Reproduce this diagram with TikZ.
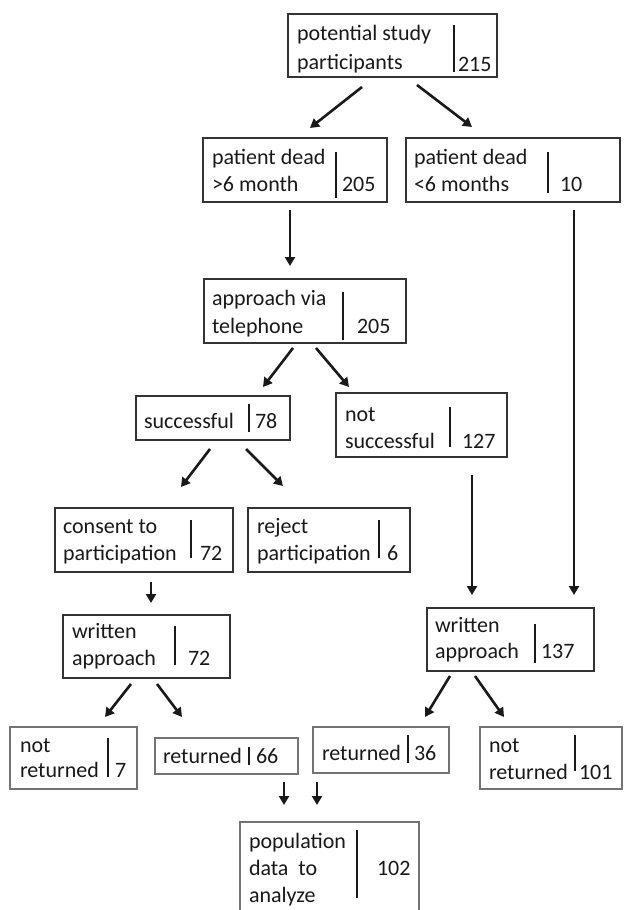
\documentclass[tikz,border=0pt]{standalone}
\usepackage{fontspec}
\setmainfont{Carlito}
\usetikzlibrary{arrows.meta,calc}
\begin{document}
\begin{tikzpicture}[x=1pt,y=-1pt,
  box/.style={draw=black!80,line width=1.4pt,inner sep=0pt,outer sep=0pt,anchor=north west},
  gbox/.style={box,draw=black!55},
  txt/.style={inner sep=0pt,outer sep=0pt,anchor=base west,font=\fontsize{22}{26}\selectfont,text=black!90},
  div/.style={line width=2.6pt,black!90},
  arr/.style={line width=2.6pt,black!90,-{Triangle[length=9pt,width=10pt]}}]
\clip (0,0) rectangle (624,910);
\fill[white] (0,0) rectangle (624,910);
% boxes
\node[box,minimum width=209pt,minimum height=63pt] (b1) at (288,14) {};
\node[box,minimum width=184pt,minimum height=64pt] (b2) at (203,138) {};
\node[box,minimum width=214pt,minimum height=64pt] (b3) at (406,138) {};
\node[box,minimum width=202pt,minimum height=64pt] (b4) at (204,279) {};
\node[box,minimum width=154pt,minimum height=44pt] (b5) at (136,396) {};
\node[box,minimum width=171pt,minimum height=64pt] (b6) at (336,393) {};
\node[box,minimum width=178pt,minimum height=64pt] (b7) at (55,508) {};
\node[box,minimum width=162pt,minimum height=64pt] (b8) at (248,508) {};
\node[box,minimum width=167pt,minimum height=63pt] (b9) at (63,615) {};
\node[box,minimum width=167pt,minimum height=63pt] (b10) at (427,608) {};
\node[gbox,minimum width=127pt,minimum height=62pt] (b11) at (10,727) {};
\node[gbox,minimum width=143pt,minimum height=36pt] (b12) at (155,738) {};
\node[gbox,minimum width=136pt,minimum height=46pt] (b13) at (313,727) {};
\node[gbox,minimum width=142pt,minimum height=62pt] (b14) at (480,727) {};
\node[gbox,minimum width=179pt,minimum height=100pt] (b15) at (240,822) {};
% texts
\node[txt] (t1a) at (297,40) {potential study};
\node[txt] (t1b) at (297,69) {participants};
\node[txt] (n1) at (458,71) {215};
\draw[div] (454,25) -- (454,72);
\node[txt] (t2a) at (212,164) {patient dead};
\node[txt] (t2b) at (212,191) {>6 month};
\node[txt] (n2) at (342,191) {205};
\draw[div] (336,152) -- (336,198);
\node[txt] (t3a) at (414,164) {patient dead};
\node[txt] (t3b) at (414,191) {<6 months};
\node[txt] (n3) at (560,191) {10};
\draw[div] (548,152) -- (548,193);
\node[txt] (t4a) at (212,305) {approach via};
\node[txt] (t4b) at (212,333) {telephone};
\node[txt] (n4) at (357,333) {205};
\draw[div] (343,292) -- (343,340);
\node[txt] (t5a) at (144,428) {successful};
\node[txt] (n5) at (255,428) {78};
\draw[div] (249,404) -- (249,432);
\node[txt] (t6a) at (345,421) {not};
\node[txt] (t6b) at (345,448) {successful};
\node[txt] (n6) at (462,448) {127};
\draw[div] (450,407) -- (450,447);
\node[txt] (t7a) at (63,533) {consent to};
\node[txt] (t7b) at (63,560) {participation};
\node[txt] (n7) at (200,560) {72};
\draw[div] (191,520) -- (191,558);
\node[txt] (t8a) at (257,533) {reject};
\node[txt] (t8b) at (257,560) {participation};
\node[txt] (n8) at (387,560) {6};
\draw[div] (379,520) -- (379,558);
\node[txt] (t9a) at (72,638) {written};
\node[txt] (t9b) at (72,665) {approach};
\node[txt] (n9) at (188,665) {72};
\draw[div] (175,626) -- (175,665);
\node[txt] (t10a) at (435,632) {written};
\node[txt] (t10b) at (435,658) {approach};
\node[txt] (n10) at (541,658) {137};
\draw[div] (535,624) -- (535,663);
\node[txt] (t11a) at (20,752) {not};
\node[txt] (t11b) at (20,777) {returned};
\node[txt] (n11) at (115,777) {7};
\draw[div] (108,738) -- (108,777);
\node[txt] (t12a) at (163,763) {returned};
\node[txt] (n12) at (256,763) {66};
\draw[div] (249,747) -- (249,765);
\node[txt] (t13a) at (322,760) {returned};
\node[txt] (n13) at (414,760) {36};
\draw[div] (408,735) -- (408,763);
\node[txt] (t14a) at (489,752) {not};
\node[txt] (t14b) at (489,779) {returned};
\node[txt] (n14) at (579,779) {101};
\draw[div] (575,735) -- (575,771);
\node[txt] (t15a) at (249,848) {population};
\node[txt] (t15b) at (249,875) {data\ \ to};
\node[txt] (t15c) at (249,902) {analyze};
\node[txt] (n15) at (377,875) {102};
\draw[div] (357,830) -- (357,898);
% connectors
\draw[arr] ($(b1.north west)+(74,73)$) -- ($(b2.north west)+(107,-10)$);
\draw[arr] ($(b1.north west)+(129,71)$) -- ($(b3.north west)+(66,-11)$);
\draw[arr] ($(b2.north west)+(87,72)$) -- ($(b4.north west)+(86,-13)$);
\draw[arr] ($(b4.north west)+(89,69)$) -- ($(b5.north west)+(127,-9)$);
\draw[arr] ($(b4.north west)+(112,69)$) -- ($(b6.north west)+(13,-6)$);
\draw[arr] ($(b5.north west)+(74,53)$) -- ($(b7.north west)+(126,-21)$);
\draw[arr] ($(b5.north west)+(110,53)$) -- ($(b8.north west)+(35,-22)$);
\draw[arr] ($(b7.north west)+(96,74)$) -- ($(b9.north west)+(88,-12)$);
\draw[arr] ($(b6.north west)+(136,82)$) -- ($(b10.north west)+(45,-13)$);
\draw[arr] ($(b3.north west)+(168,72)$) -- ($(b10.north west)+(147,-13)$);
\draw[arr] ($(b9.north west)+(68,69)$) -- ($(b11.north west)+(95,-10)$);
\draw[arr] ($(b9.north west)+(94,69)$) -- ($(b12.north west)+(27,-21)$);
\draw[arr] ($(b10.north west)+(23,68)$) -- ($(b13.north west)+(112,-10)$);
\draw[arr] ($(b10.north west)+(48,68)$) -- ($(b14.north west)+(24,-10)$);
\draw[arr] ($(b12.north west)+(129,44)$) -- ($(b15.north west)+(44,-17)$);
\draw[arr] ($(b13.north west)+(4,55)$) -- ($(b15.north west)+(77,-17)$);
\end{tikzpicture}
\end{document}
